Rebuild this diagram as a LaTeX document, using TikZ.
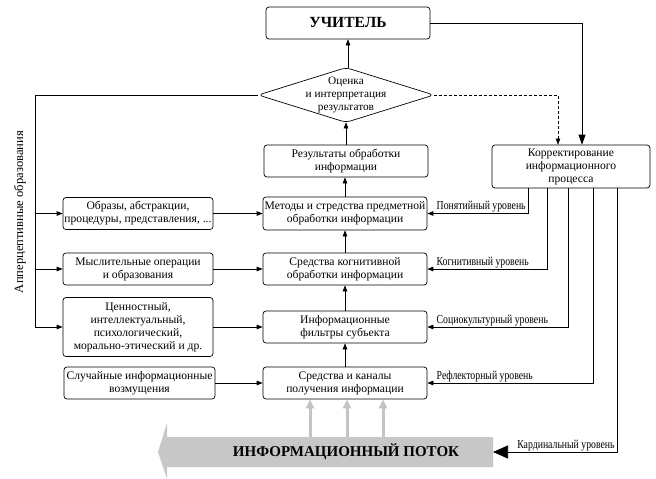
\documentclass[tikz,border=0pt]{standalone}
\usepackage{fontspec}
\setmainfont{Liberation Serif}
\newfontfamily\narrowfont[FakeStretch=0.8]{Liberation Serif}
\usetikzlibrary{arrows.meta,calc}

\begin{document}
\begin{tikzpicture}[x=1pt,y=-1pt,line width=0.7pt,
    box/.style={draw,rounded corners=3pt,align=center,inner sep=1pt,
        font=\fontsize{11.6}{13}\selectfont,minimum width=164pt,minimum height=33pt},
    lbox/.style={box,minimum width=150pt,minimum height=32pt},
    lvl/.style={font=\narrowfont\fontsize{12.2}{13}\selectfont,inner sep=1pt},
    arr/.style={-{Triangle[length=6pt,width=4.5pt]}},
    bigarr/.style={-{Triangle[length=10pt,width=7pt]}},
    grayarr/.style={draw=black!23,line width=3pt,-{Triangle[length=9pt,width=8pt]}}]
    \useasboundingbox (0,0) rectangle (656,479);

    % Teacher
    \node[box,minimum height=32pt,font=\bfseries\fontsize{15.5}{17}\selectfont] (uchitel) at (348,23) {УЧИТЕЛЬ};

    % Evaluation
    \node[align=center,inner sep=0pt,minimum width=175pt,minimum height=54pt,
        font=\fontsize{11.3}{13}\selectfont] (ocenka) at (346,95) {Оценка\\и интерпретация\\результатов};
    \draw[rounded corners=5pt] ($(ocenka.west)!0.5!(ocenka.north)$) -- (ocenka.north) -- (ocenka.east)
        -- (ocenka.south) -- (ocenka.west) -- cycle;

    % Middle column
    \node[box,minimum height=32pt] (rezult) at (346,161) {Результаты обработки\\информации};
    \node[box] (metody) at (345,213.5) {Методы и стредства предметной\\обработки информации};
    \node[box,minimum height=32pt] (kogn) at (345,269) {Средства когнитивной\\обработки информации};
    \node[box,minimum height=32pt] (filtry) at (345,327) {Информационные\\фильтры субъекта};
    \node[box,minimum height=32pt] (kanaly) at (345,383) {Средства и каналы\\получения информации};

    % Left column
    \node[lbox] (obrazy) at (138,213.5) {Образы, абстракции,\\процедуры, представления, ...};
    \node[lbox] (mysl) at (138,269) {Мыслительные операции\\и образования};
    \node[lbox,minimum height=59pt] (tsennost) at (138,327) {Ценностный,\\интеллектуальный,\\психологический,\\морально-этический и др.};
    \node[lbox,minimum width=151pt] (sluch) at (139.5,383) {Случайные информационные\\возмущения};

    \node[rotate=90,font=\fontsize{12.6}{14}\selectfont] (apperc) at (20,212) {Апперцептивные образования};

    % Correction
    \node[box,minimum width=158pt,minimum height=43pt] (korr) at (571,166.5) {Корректирование\\информационного\\процесса};

    % Information flow
    \fill[black!22] (493,437) -- (167,437) -- (167,423) -- (158,452) -- (167,479) -- (167,467)
        -- (493,467) -- cycle;
    \node[font=\bfseries\fontsize{15}{17}\selectfont] (potok) at (346,452) {ИНФОРМАЦИОННЫЙ ПОТОК};
    \coordinate (ptail) at (493,452);
    \coordinate (g1) at (310,437);
    \coordinate (g2) at (347,437);
    \coordinate (g3) at (383,437);

    % Arrows
    \draw[arr] (ocenka.north -| uchitel.south) -- (uchitel.south);
    \draw[arr] (rezult.north) -- (ocenka.south -| rezult.north);
    \draw[arr] (metody.north) -- (rezult.south -| metody.north);
    \draw[arr] (kogn) -- (metody);
    \draw[arr] (filtry) -- (kogn);
    \draw[arr] (kanaly) -- (filtry);
    \draw[arr] (obrazy.east) -- (metody.west);
    \draw[arr] (mysl.east) -- (kogn.west);
    \draw[arr] (tsennost.east) -- (filtry.west);
    \draw[arr] (sluch.east) -- (kanaly.west);
    \draw[grayarr] (g1) -- (g1 |- kanaly.south);
    \draw[grayarr] (g2) -- (g2 |- kanaly.south);
    \draw[grayarr] (g3) -- (g3 |- kanaly.south);

    % Apperception links
    \coordinate (lbus) at (35,0);
    \draw[arr] (ocenka.west) -| (lbus |- tsennost.west) -- (tsennost.west);
    \draw[arr] (lbus |- obrazy.west) -- (obrazy.west);
    \draw[arr] (lbus |- mysl.west) -- (mysl.west);

    % Feedback
    \draw[bigarr] (uchitel.east) -| ([xshift=11pt]korr.north);
    \draw[arr,line width=0.5pt,dash pattern=on 3pt off 2pt] (ocenka.east) -| ([xshift=-13pt]korr.north);
    \draw[arr] ([xshift=-43pt]korr.south) |- (metody.east)
        node[lvl,pos=1,anchor=south west,xshift=8pt] {Понятийный уровень};
    \draw[arr] ([xshift=-24pt]korr.south) |- (kogn.east)
        node[lvl,pos=1,anchor=south west,xshift=8pt] {Когнитивный уровень};
    \draw[arr] ([xshift=-3pt]korr.south) |- (filtry.east)
        node[lvl,pos=1,anchor=south west,xshift=8pt] {Социокультурный уровень};
    \draw[arr] ([xshift=22pt]korr.south) |- (kanaly.east)
        node[lvl,pos=1,anchor=south west,xshift=8pt] {Рефлекторный уровень};
    \draw[-{Triangle[length=15pt,width=13pt]}] ([xshift=46pt]korr.south) |- (ptail)
        node[lvl,pos=1,anchor=south west,xshift=23pt] {Кардинальный уровень};
\end{tikzpicture}
\end{document}
